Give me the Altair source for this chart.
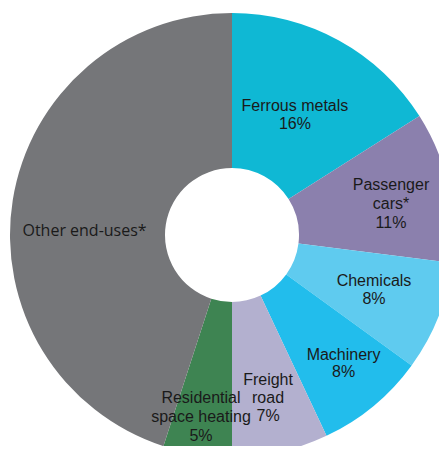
import altair as alt
import pandas as pd

categories = ["Ferrous metals", "Passenger cars*", "Chemicals", "Machinery",
              "Freight road", "Residential space heating", "Other end-uses*"]
labels = ["Ferrous metals\n16%", "Passenger\ncars*\n11%", "Chemicals\n8%",
          "Machinery\n8%", "Freight\nroad\n7%", "Residential\nspace heating\n5%",
          "Other end-uses*"]
values = [16, 11, 8, 8, 7, 5, 45]
colors = ["#0FB8D4", "#8B80AD", "#5FCBEF", "#22BDEC", "#B3B0CF", "#3E8452", "#757679"]

df = pd.DataFrame({"category": categories, "label": labels, "value": values,
                   "order": list(range(len(categories)))})

CX, CY = 224, 227

base = alt.Chart(df).encode(
    theta=alt.Theta("value:Q", stack=True),
    order=alt.Order("order:Q"),
    x=alt.value(CX), y=alt.value(CY),
)

arcs = base.mark_arc(outerRadius=222, innerRadius=67).encode(
    color=alt.Color("category:N", scale=alt.Scale(domain=categories, range=colors), legend=None),
)

# label placement per slice (first line anchor): radius, theta offset (rad), line height, font
placement = [
    (143.6, -0.049, 17.7, "Liberation Sans"),
    (166.8, -0.087, 19.2, "Liberation Sans"),
    (149.4, -0.061, 17.7, "Liberation Sans"),
    (163.8, -0.058, 17.5, "Liberation Sans"),
    (149.9, -0.023, 18.0, "Liberation Sans"),
    (166.0, 0.031, 19.0, "Liberation Sans"),
    (147.5, -0.133, 18.0, "Open Sans"),
]

text_layers = []
for i, (r, toff, lh, font) in enumerate(placement):
    text_layers.append(
        base.mark_text(
            radius=r, thetaOffset=toff, fontSize=16, font=font, color="#1A1A1A",
            lineBreak="\n", lineHeight=lh, align="center", baseline="middle"
        ).encode(
            text=alt.condition(alt.datum.order == i, "label:N", alt.value(""))
        )
    )

chart = alt.layer(arcs, *text_layers).properties(
    width=431, height=438, autosize=alt.AutoSizeParams(type="none"), padding=0
).configure_view(stroke=None)

chart.save("out.html", embed_options={"renderer": "svg", "actions": False})
